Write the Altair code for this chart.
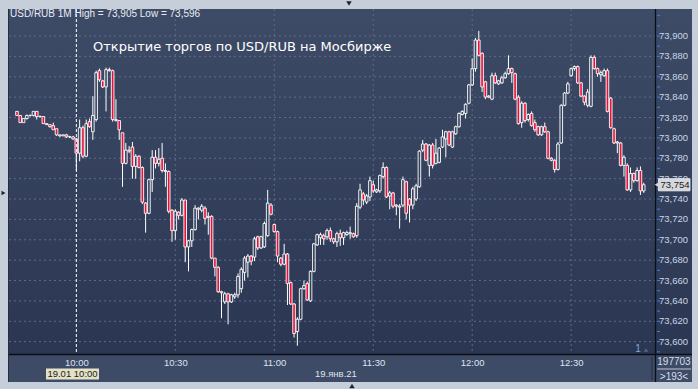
import altair as alt
import pandas as pd

# ---------------- data (USD/RUB, 1-minute candles, 19.01.2021) ----------------
FIRST_MINUTE = -18          # first candle = 09:42 (minutes relative to 10:00)

OPEN = [
    73.826, 73.822, 73.815, 73.819, 73.822, 73.822, 73.826, 73.821, 73.821, 73.814,
    73.813, 73.812, 73.809, 73.803, 73.802, 73.803, 73.801, 73.801,
    73.799, 73.785, 73.810, 73.782, 73.816, 73.806, 73.818, 73.866, 73.856, 73.850,
    73.867, 73.866, 73.818, 73.817, 73.805, 73.775, 73.788, 73.791, 73.772, 73.782,
    73.771, 73.736, 73.726, 73.759, 73.781, 73.775, 73.780, 73.768, 73.767, 73.729,
    73.709, 73.727, 73.724, 73.739, 73.693, 73.699, 73.710, 73.731, 73.729, 73.731,
    73.723, 73.723, 73.682, 73.673, 73.649, 73.639, 73.647, 73.639, 73.644, 73.646,
    73.652, 73.668, 73.678, 73.684, 73.683, 73.703, 73.692, 73.693, 73.704, 73.734,
    73.715, 73.708, 73.682, 73.676, 73.686, 73.658, 73.637, 73.610, 73.622, 73.652,
    73.657, 73.640, 73.669, 73.695, 73.702, 73.704, 73.703, 73.709, 73.701, 73.698,
    73.706, 73.702, 73.705, 73.706, 73.706, 73.704, 73.732, 73.745, 73.737, 73.742,
    73.754, 73.747, 73.748, 73.762, 73.771, 73.743, 73.746, 73.733, 73.733, 73.734,
    73.757, 73.740, 73.734, 73.740, 73.752, 73.788, 73.794, 73.773, 73.793, 73.775,
    73.776, 73.791, 73.799, 73.806, 73.791, 73.804, 73.811, 73.823, 73.824, 73.834,
    73.852, 73.868, 73.896, 73.883, 73.855, 73.841, 73.838, 73.861, 73.853, 73.854,
    73.859, 73.863, 73.868, 73.863, 73.840, 73.815, 73.834, 73.818, 73.824, 73.815,
    73.811, 73.803, 73.811, 73.806, 73.780, 73.778, 73.769, 73.795, 73.832, 73.844,
    73.861, 73.868, 73.870, 73.854, 73.841, 73.832, 73.831, 73.879, 73.868, 73.862,
    73.861, 73.866, 73.839, 73.809, 73.796, 73.795, 73.773, 73.773, 73.749, 73.765,
    73.758, 73.768, 73.748,
]
HIGH = [
    73.826, 73.822, 73.819, 73.823, 73.823, 73.826, 73.826, 73.822, 73.821, 73.814,
    73.813, 73.815, 73.809, 73.803, 73.803, 73.804, 73.802, 73.802,
    73.800, 73.818, 73.812, 73.818, 73.819, 73.841, 73.866, 73.868, 73.857, 73.869,
    73.869, 73.867, 73.838, 73.817, 73.805, 73.795, 73.792, 73.796, 73.784, 73.783,
    73.772, 73.737, 73.760, 73.788, 73.788, 73.790, 73.795, 73.775, 73.768, 73.730,
    73.730, 73.728, 73.741, 73.739, 73.700, 73.711, 73.734, 73.732, 73.735, 73.733,
    73.727, 73.724, 73.682, 73.674, 73.650, 73.649, 73.648, 73.647, 73.648, 73.667,
    73.673, 73.684, 73.686, 73.685, 73.703, 73.704, 73.704, 73.718, 73.749, 73.736,
    73.716, 73.709, 73.683, 73.696, 73.687, 73.659, 73.638, 73.624, 73.653, 73.660,
    73.659, 73.670, 73.697, 73.706, 73.707, 73.706, 73.711, 73.712, 73.702, 73.708,
    73.710, 73.708, 73.709, 73.713, 73.707, 73.736, 73.755, 73.747, 73.745, 73.762,
    73.758, 73.750, 73.764, 73.776, 73.772, 73.748, 73.747, 73.735, 73.735, 73.762,
    73.758, 73.741, 73.752, 73.755, 73.788, 73.798, 73.795, 73.794, 73.795, 73.799,
    73.791, 73.808, 73.807, 73.807, 73.807, 73.812, 73.825, 73.827, 73.834, 73.853,
    73.878, 73.898, 73.905, 73.884, 73.856, 73.842, 73.864, 73.864, 73.857, 73.861,
    73.865, 73.881, 73.869, 73.864, 73.842, 73.836, 73.835, 73.824, 73.826, 73.818,
    73.812, 73.812, 73.815, 73.807, 73.781, 73.779, 73.796, 73.833, 73.845, 73.855,
    73.869, 73.871, 73.871, 73.855, 73.842, 73.848, 73.881, 73.881, 73.869, 73.866,
    73.868, 73.868, 73.840, 73.810, 73.797, 73.796, 73.783, 73.775, 73.771, 73.766,
    73.771, 73.772, 73.756,
]
LOW = [
    73.822, 73.815, 73.815, 73.818, 73.821, 73.821, 73.818, 73.820, 73.814, 73.813,
    73.810, 73.808, 73.802, 73.801, 73.802, 73.800, 73.800, 73.798,
    73.768, 73.777, 73.780, 73.781, 73.810, 73.798, 73.816, 73.855, 73.849, 73.826,
    73.865, 73.816, 73.816, 73.798, 73.752, 73.774, 73.785, 73.760, 73.760, 73.770,
    73.735, 73.707, 73.725, 73.747, 73.770, 73.772, 73.766, 73.752, 73.726, 73.698,
    73.700, 73.720, 73.723, 73.678, 73.669, 73.693, 73.709, 73.720, 73.727, 73.715,
    73.705, 73.681, 73.664, 73.648, 73.623, 73.637, 73.617, 73.638, 73.642, 73.643,
    73.648, 73.660, 73.663, 73.675, 73.679, 73.690, 73.691, 73.692, 73.703, 73.724,
    73.707, 73.678, 73.674, 73.675, 73.636, 73.636, 73.604, 73.596, 73.621, 73.651,
    73.640, 73.639, 73.668, 73.694, 73.695, 73.695, 73.700, 73.698, 73.696, 73.693,
    73.694, 73.695, 73.704, 73.701, 73.702, 73.702, 73.730, 73.734, 73.735, 73.738,
    73.746, 73.746, 73.746, 73.760, 73.741, 73.730, 73.731, 73.724, 73.711, 73.732,
    73.720, 73.717, 73.730, 73.738, 73.751, 73.786, 73.777, 73.762, 73.770, 73.774,
    73.775, 73.790, 73.781, 73.792, 73.790, 73.803, 73.810, 73.822, 73.819, 73.833,
    73.851, 73.865, 73.880, 73.845, 73.838, 73.839, 73.837, 73.853, 73.852, 73.853,
    73.858, 73.862, 73.854, 73.837, 73.813, 73.810, 73.815, 73.816, 73.811, 73.806,
    73.802, 73.802, 73.805, 73.779, 73.777, 73.766, 73.768, 73.794, 73.831, 73.843,
    73.860, 73.866, 73.853, 73.840, 73.832, 73.830, 73.830, 73.867, 73.860, 73.855,
    73.860, 73.825, 73.809, 73.794, 73.785, 73.772, 73.762, 73.748, 73.747, 73.756,
    73.757, 73.744, 73.746,
]
CLOSE = [
    73.822, 73.815, 73.819, 73.822, 73.822, 73.826, 73.821, 73.821, 73.814, 73.813,
    73.811, 73.808, 73.803, 73.802, 73.803, 73.801, 73.801, 73.799,
    73.785, 73.810, 73.782, 73.814, 73.811, 73.822, 73.864, 73.857, 73.850, 73.867,
    73.866, 73.818, 73.817, 73.808, 73.775, 73.788, 73.787, 73.772, 73.782, 73.771,
    73.737, 73.726, 73.759, 73.781, 73.775, 73.779, 73.768, 73.767, 73.728, 73.709,
    73.728, 73.724, 73.739, 73.693, 73.699, 73.710, 73.731, 73.730, 73.733, 73.721,
    73.722, 73.682, 73.673, 73.649, 73.648, 73.647, 73.639, 73.646, 73.646, 73.664,
    73.671, 73.682, 73.684, 73.679, 73.701, 73.692, 73.703, 73.716, 73.736, 73.725,
    73.708, 73.684, 73.676, 73.686, 73.657, 73.637, 73.608, 73.622, 73.652, 73.655,
    73.641, 73.669, 73.696, 73.705, 73.705, 73.701, 73.709, 73.701, 73.698, 73.706,
    73.702, 73.707, 73.707, 73.707, 73.703, 73.733, 73.749, 73.739, 73.743, 73.758,
    73.748, 73.749, 73.763, 73.771, 73.742, 73.746, 73.733, 73.734, 73.732, 73.759,
    73.726, 73.734, 73.750, 73.753, 73.787, 73.794, 73.778, 73.793, 73.773, 73.785,
    73.790, 73.801, 73.806, 73.793, 73.806, 73.811, 73.824, 73.826, 73.833, 73.852,
    73.868, 73.896, 73.881, 73.850, 73.840, 73.840, 73.861, 73.854, 73.856, 73.859,
    73.863, 73.868, 73.864, 73.838, 73.814, 73.834, 73.817, 73.823, 73.812, 73.808,
    73.803, 73.811, 73.806, 73.780, 73.778, 73.769, 73.794, 73.832, 73.844, 73.853,
    73.868, 73.870, 73.854, 73.841, 73.835, 73.845, 73.879, 73.868, 73.863, 73.864,
    73.866, 73.826, 73.810, 73.795, 73.795, 73.773, 73.781, 73.749, 73.765, 73.758,
    73.768, 73.748, 73.754,
]

X_TICKS = [0, 30, 60, 90, 120, 150]
X_LABELS = ["10:00", "10:30", "11:00", "11:30", "12:00", "12:30"]
Y_GRID = [73.60, 73.62, 73.64, 73.66, 73.68, 73.70, 73.72, 73.74,
          73.76, 73.78, 73.80, 73.82, 73.84, 73.86, 73.88, 73.90]
Y_TICKS = [round(73.59 + 0.01 * i, 2) for i in range(34)]
LAST_PRICE = 73.754
HEADER = "USD/RUB 1M High = 73,905 Low = 73,596"
TITLE = "Открытие торгов по USD/RUB на Мосбирже"
CURSOR_LABEL = "19.01 10:00"
DATE_LABEL = "19.янв.21"

assert len(OPEN) == len(HIGH) == len(LOW) == len(CLOSE)

df = pd.DataFrame({
    "t": list(range(FIRST_MINUTE, FIRST_MINUTE + len(OPEN))),
    "o": OPEN, "h": HIGH, "l": LOW, "c": CLOSE,
})
one = pd.DataFrame({"a": [0]})

W, H = 646, 345
FONT = "Liberation Sans"
RED = "#e8113b"

x_label_expr = " : ".join(
    f"datum.value == {v} ? '{lab}'" for v, lab in zip(X_TICKS, X_LABELS)
) + " : ''"

x_axis = alt.Axis(values=X_TICKS, labelExpr=x_label_expr, title=None, domain=False,
                  ticks=False, grid=False, labelColor="#dde4ef", labelFont=FONT,
                  labelFontSize=9.5, labelPadding=3, labelOverlap=False, zindex=1)

xs = alt.Scale(domain=[-18.9, 173.9], nice=False, zero=False)
ys = alt.Scale(domain=[73.5879, 73.9265], nice=False, zero=False)

def X(field):
    return alt.X(field, type="quantitative", scale=xs, axis=x_axis)

def Y(field):
    return alt.Y(field, type="quantitative", scale=ys, axis=None)

# ---------------- background panels ----------------
grad = {"gradient": "linear", "x1": 0, "y1": 0, "x2": 0, "y2": 1,
        "stops": [{"offset": 0, "color": "#3e4b66"}, {"offset": 1, "color": "#2b3752"}]}
panel = alt.Chart(one).mark_rect(fill=grad).encode(
    x=alt.value(0), x2=alt.value(683), y=alt.value(0), y2=alt.value(H))
strip = alt.Chart(one).mark_rect(fill="#3e4b66").encode(
    x=alt.value(0), x2=alt.value(683), y=alt.value(H), y2=alt.value(373))

grid_df = pd.DataFrame({"v": Y_GRID})
hgrid = alt.Chart(grid_df).mark_rule(color="#5d6b89", strokeWidth=1, strokeDash=[2, 3]).encode(
    y=Y("v"), x=alt.value(0), x2=alt.value(W))
vgrid_df = pd.DataFrame({"t": X_TICKS[1:]})
vgrid = alt.Chart(vgrid_df).mark_rule(color="#5d6b89", strokeWidth=1, strokeDash=[2, 3]).encode(
    x=X("t"), y=alt.value(0), y2=alt.value(H))

# price scale: blue minor ticks and labels (drawn through the y scale)
tick_df = pd.DataFrame({"v": Y_TICKS})
yticks = alt.Chart(tick_df).mark_rule(color="#3b82e0", strokeWidth=1).encode(
    y=Y("v"), x=alt.value(648), x2=alt.value(651))
ylabels = alt.Chart(grid_df).transform_calculate(
    lab="replace(format(datum.v, '.3f'), '.', ',')"
).mark_text(align="left", baseline="middle", fontSize=9.5, font=FONT, color="#cbd5e6").encode(
    y=Y("v"), x=alt.value(650), text="lab:N")

# ---------------- candles ----------------
base = alt.Chart(df).transform_calculate(
    top="max(datum.o, datum.c)", bot="min(datum.o, datum.c)")
wick_hi = base.mark_rule(color="white", strokeWidth=1).encode(x=X("t"), y=Y("h"), y2="top:Q")
wick_lo = base.mark_rule(color="white", strokeWidth=1).encode(x=X("t"), y=Y("bot"), y2="l:Q")
bodies = base.mark_bar(width=2.6, stroke="white", strokeWidth=0.9).encode(
    x=X("t"), y=Y("o"), y2="c:Q",
    fill=alt.condition("datum.c < datum.o", alt.value(RED), alt.value("transparent")))

cursor = alt.Chart(pd.DataFrame({"t": [X_TICKS[0]]})).mark_rule(
    color="white", strokeWidth=1, strokeDash=[3, 2]).encode(
    x=X("t"), y=alt.value(0), y2=alt.value(H))

# ---------------- frame lines ----------------
vline = alt.Chart(one).mark_rule(color="#0b0e14", strokeWidth=1.3).encode(
    x=alt.value(646.5), y=alt.value(0), y2=alt.value(373))
hline = alt.Chart(one).mark_rule(color="#0b0e14", strokeWidth=1.3).encode(
    x=alt.value(0), x2=alt.value(683), y=alt.value(H + 0.5))
leftline = alt.Chart(one).mark_rule(color="#262d3d", strokeWidth=1).encode(
    x=alt.value(-0.5), y=alt.value(0), y2=alt.value(373))
sep_v = alt.Chart(one).mark_rule(color="#252d3f", strokeWidth=1).encode(
    x=alt.value(643), y=alt.value(348), y2=alt.value(371))
sep_h = alt.Chart(one).mark_rule(color="#c0c8d6", strokeWidth=1).encode(
    x=alt.value(648), x2=alt.value(682), y=alt.value(360))

def txt(text, x, y, size=9.5, color="#dde4ef", align="left", font=FONT, weight="normal"):
    return alt.Chart(one).mark_text(text=text, align=align, baseline="middle", fontSize=size,
                                    color=color, font=font, fontWeight=weight).encode(
        x=alt.value(x), y=alt.value(y))

header = txt(HEADER, 1, 5, size=10, color="#e9edf5")
title = txt(TITLE, 84, 38, size=13, color="#ffffff", font="DejaVu Sans")

cur_box = alt.Chart(one).mark_rect(fill="#e3e1c6").encode(
    x=alt.value(37), x2=alt.value(90), y=alt.value(359.5), y2=alt.value(370.5))
cur_txt = txt(CURSOR_LABEL, 63.5, 365.3, color="#1b1b1b", align="center")
date_txt = txt(DATE_LABEL, 306, 364.5, color="#dde4ef")
count1 = txt("197703", 665, 353, size=10, color="#d6deea", align="center")
count2 = txt(">193<", 665, 367.5, size=10, color="#d6deea", align="center")
one_lbl = txt("1", 629, 340, size=10, color="#7ea8e4", align="center")
one_tri = alt.Chart(one).mark_point(shape="triangle-up", filled=True, size=18,
                                    color="#5a667c", opacity=1).encode(
    x=alt.value(637), y=alt.value(341))

# last price box (covers the lower half of the 73,760 label, as in the original)
price_box = alt.Chart(one).mark_rect(fill="#d5d7da", stroke="#eef0f2", strokeWidth=0.8).encode(
    x=alt.value(649.5), x2=alt.value(681),
    y=alt.datum(LAST_PRICE + 0.006, type="quantitative", scale=ys),
    y2=alt.datum(LAST_PRICE - 0.006))
price_arrow = alt.Chart(one).mark_point(shape="triangle-left", filled=True, size=28,
                                        color="#d5d7da", opacity=1).encode(
    x=alt.value(648), y=alt.datum(LAST_PRICE, type="quantitative", scale=ys))
price_txt = alt.Chart(one).mark_text(text="73,754", align="left", baseline="middle",
                                     fontSize=9.5, font=FONT, color="#1a1a1a").encode(
    x=alt.value(651.5), y=alt.datum(LAST_PRICE, type="quantitative", scale=ys))

# little navigation triangles in the outer frame
tri_top = alt.Chart(one).mark_point(shape="triangle-down", filled=True, size=30,
                                    color="#1e2433", opacity=1).encode(
    x=alt.value(340), y=alt.value(-5.5))
tri_bot = alt.Chart(one).mark_point(shape="triangle-up", filled=True, size=30,
                                    color="#1e2433", opacity=1).encode(
    x=alt.value(343), y=alt.value(377))
tri_left = alt.Chart(one).mark_point(shape="triangle-right", filled=True, size=22,
                                     color="#1e2433", opacity=1).encode(
    x=alt.value(-5.5), y=alt.value(184))

chart = alt.layer(
    panel, strip, hgrid, vgrid, yticks, ylabels, wick_hi, wick_lo, bodies, cursor,
    vline, hline, leftline, sep_v, sep_h,
    header, title, cur_box, cur_txt, date_txt, count1, count2, one_lbl, one_tri,
    price_box, price_arrow, price_txt, tri_top, tri_bot, tri_left,
).properties(
    width=W, height=H,
    padding={"left": 9, "top": 9, "right": 43, "bottom": 35},
    autosize=alt.AutoSizeParams(type="none"),
    background="#c5ced9",
).configure_view(strokeWidth=0).resolve_scale(x="shared", y="shared")

chart.save("out.html", embed_options={"renderer": "svg", "actions": False})
